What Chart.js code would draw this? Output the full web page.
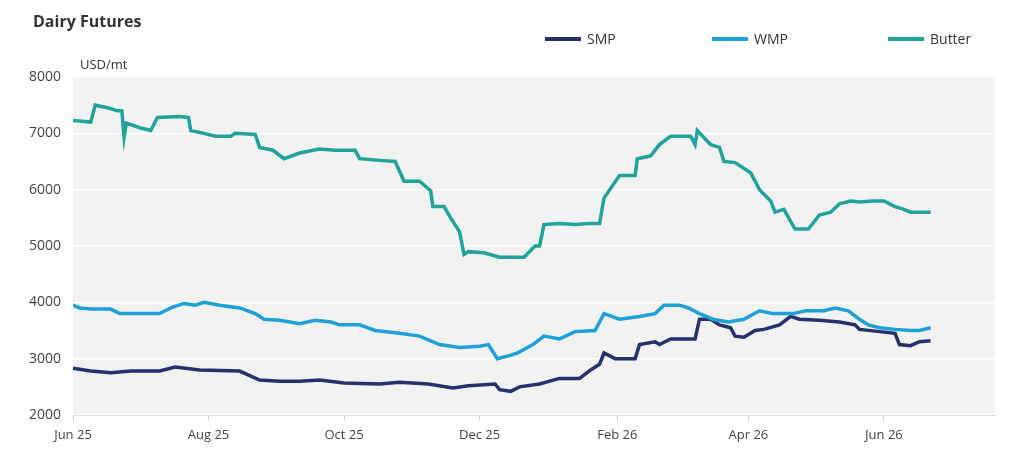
<!DOCTYPE html>
<html><head><meta charset="utf-8">
<script src="https://cdn.jsdelivr.net/npm/chart.js@4"></script>
<style>
body{margin:0;background:#fff;font-family:"Open Sans",sans-serif;}
#wrap{position:relative;width:1034px;height:464px;}
canvas{position:absolute;left:0;top:0;}
.t{position:absolute;color:#333;}
.lg{position:absolute;top:29px;font-size:14px;color:#333;display:flex;align-items:center;}
.lg span{display:inline-block;width:36px;height:4px;margin-right:6px;}
</style></head><body>
<div id="wrap">
<canvas id="c" width="1034" height="464"></canvas>
<div class="t" style="left:33px;top:10px;font-size:16px;font-weight:bold;">Dairy Futures</div>
<div class="t" style="left:80px;top:55px;font-size:13px;">USD/mt</div>
<div class="lg" style="left:545px;"><span style="background:#27306e"></span>SMP</div>
<div class="lg" style="left:712px;"><span style="background:#1ea0d8"></span>WMP</div>
<div class="lg" style="left:888px;"><span style="background:#1fa39a"></span>Butter</div>
</div>
<script>
// [day since 1 Jun 2025, USD/mt]
const tickDays=[0,61,122,183,245,304,365];
const tickLabels=["Jun 25","Aug 25","Oct 25","Dec 25","Feb 26","Apr 26","Jun 26"];
const butter=[[0,7230],[8,7200],[10,7500],[16,7450],[20,7400],[22,7400],[23,6930],[24,7180],[30,7100],[35,7050],[38,7280],[48,7300],[52,7280],[53,7050],[59,7000],[64,6950],[71,6950],[73,7000],[82,6980],[84,6750],[90,6700],[95,6550],[102,6650],[111,6720],[118,6700],[127,6700],[129,6550],[138,6520],[145,6500],[149,6150],[156,6150],[161,5980],[162,5700],[167,5700],[170,5500],[174,5250],[176,4850],[178,4900],[185,4880],[192,4800],[203,4800],[208,5000],[210,5000],[212,5380],[219,5400],[226,5380],[232,5400],[237,5400],[239,5850],[246,6250],[253,6250],[254,6550],[260,6600],[264,6800],[269,6950],[278,6950],[280,6800],[281,7050],[287,6800],[291,6750],[293,6500],[298,6480],[305,6300],[309,6000],[314,5800],[316,5600],[320,5650],[325,5300],[331,5300],[336,5550],[341,5600],[345,5750],[350,5800],[354,5780],[360,5800],[365,5800],[370,5700],[374,5650],[377,5600],[386,5600]];
const wmp=[[0,3950],[3,3900],[8,3880],[17,3880],[21,3800],[35,3800],[39,3800],[44,3900],[50,3980],[55,3950],[59,4000],[66,3950],[75,3900],[82,3800],[86,3700],[93,3680],[102,3620],[109,3680],[116,3650],[120,3600],[129,3600],[136,3500],[147,3450],[156,3400],[165,3250],[174,3200],[183,3220],[187,3250],[191,3000],[196,3050],[200,3100],[207,3250],[212,3400],[219,3350],[226,3480],[235,3500],[239,3800],[246,3700],[255,3750],[262,3800],[266,3950],[273,3950],[277,3900],[282,3800],[288,3700],[295,3650],[302,3700],[309,3850],[315,3800],[324,3800],[330,3850],[338,3850],[343,3900],[349,3850],[354,3700],[358,3600],[363,3550],[370,3520],[377,3500],[381,3500],[386,3550]];
const smp=[[0,2830],[8,2780],[17,2750],[26,2780],[39,2780],[46,2850],[57,2800],[75,2780],[84,2620],[93,2600],[102,2600],[111,2620],[122,2570],[138,2550],[147,2580],[160,2550],[171,2480],[178,2520],[190,2550],[192,2450],[197,2420],[201,2500],[210,2550],[219,2650],[228,2650],[233,2800],[237,2900],[239,3100],[244,3000],[253,3000],[255,3250],[262,3300],[264,3250],[269,3350],[280,3350],[282,3700],[287,3700],[291,3600],[296,3550],[298,3400],[302,3380],[307,3500],[311,3520],[318,3600],[323,3750],[327,3700],[336,3680],[345,3650],[352,3600],[354,3520],[363,3480],[370,3450],[372,3250],[377,3230],[381,3300],[386,3320]];
const pts=a=>a.map(p=>({x:p[0],y:p[1]}));
const bg={id:'bg',beforeDraw(c){const a=c.chartArea,g=c.ctx;g.save();g.fillStyle='#f2f2f2';g.fillRect(a.left,a.top,a.right-a.left,a.bottom-a.top);g.restore();}};
const ds=(l,c,a)=>({label:l,data:pts(a),borderColor:c,backgroundColor:c,borderWidth:3.5,pointRadius:0,tension:0,fill:false});
new Chart(document.getElementById('c'),{type:'line',
data:{datasets:[ds('Butter','#1fa39a',butter),ds('WMP','#1ea0d8',wmp),ds('SMP','#27306e',smp)]},
options:{responsive:false,animation:false,layout:{padding:{left:0,right:39,top:77,bottom:0}},
plugins:{legend:{display:false},tooltip:{enabled:false}},
scales:{
x:{type:'linear',min:0,max:415,afterBuildTicks(a){a.ticks=tickDays.map(v=>({value:v}));},afterFit(a){a.height=49;},
ticks:{autoSkip:false,maxRotation:0,color:'#444',font:{family:'Open Sans',size:13},padding:6,callback:(v)=>tickLabels[tickDays.indexOf(v)]},
grid:{drawOnChartArea:false,tickLength:6,color:'#ccc'},border:{color:'#ddd'}},
y:{min:2000,max:8000,afterFit(a){a.width=73;},ticks:{stepSize:1000,color:'#444',font:{family:'Open Sans',size:14},padding:12,callback:v=>String(v)},
grid:{color:'#fff',lineWidth:1.5,drawTicks:false},border:{display:false}}}},
plugins:[bg]});
</script></body></html>
